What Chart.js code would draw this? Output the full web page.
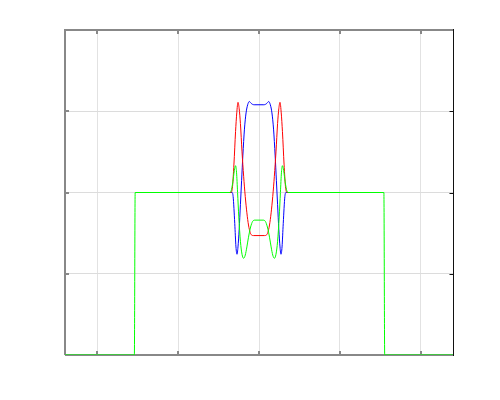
<!DOCTYPE html>
<html>
<head>
<meta charset="utf-8">
<script src="https://cdn.jsdelivr.net/npm/chart.js@4/dist/chart.umd.min.js"></script>
<style>
html,body{margin:0;padding:0;background:#fff;}
#wrap{width:500px;height:400px;}
</style>
</head>
<body>
<div id="wrap"><canvas id="c" width="500" height="400"></canvas></div>
<script>
const xTicks = [-2, -1, 0, 1, 2];
const yTicks = [1, 2, 3];

const xGreen = [-2.4, -1.542, -1.532, -0.36, -0.345, -0.325, -0.305, -0.29, -0.278, -0.265, -0.25, -0.23, -0.21, -0.19, -0.17, -0.15, -0.13, -0.11, -0.09, -0.07, -0.05, 0,
  0.05, 0.07, 0.09, 0.11, 0.13, 0.15, 0.17, 0.19, 0.21, 0.23, 0.25, 0.265, 0.278, 0.29, 0.305, 0.325, 0.345, 0.36, 1.545, 1.555, 2.4];
const yGreen = [0, 0, 2, 2, 2.02, 2.12, 2.27, 2.33, 2.25, 2.0, 1.7, 1.4, 1.24, 1.19, 1.23, 1.33, 1.45, 1.55, 1.62, 1.655, 1.66, 1.66,
  1.66, 1.655, 1.62, 1.55, 1.45, 1.33, 1.23, 1.19, 1.24, 1.4, 1.7, 2.0, 2.25, 2.33, 2.27, 2.12, 2.02, 2, 2, 0, 0];

const xRed = [-0.42, -0.35, -0.33, -0.31, -0.29, -0.275, -0.26, -0.245, -0.23, -0.21, -0.19, -0.17, -0.15, -0.13, -0.11, -0.09, -0.07, 0,
  0.07, 0.09, 0.11, 0.13, 0.15, 0.17, 0.19, 0.21, 0.23, 0.245, 0.26, 0.275, 0.29, 0.31, 0.33, 0.35, 0.42];
const yRed = [2, 2, 2.05, 2.35, 2.75, 2.98, 3.11, 3.03, 2.85, 2.5, 2.2, 1.95, 1.75, 1.6, 1.51, 1.475, 1.47, 1.47,
  1.47, 1.475, 1.51, 1.6, 1.75, 1.95, 2.2, 2.5, 2.85, 3.03, 3.11, 2.98, 2.75, 2.35, 2.05, 2, 2];

const xBlue = [-0.42, -0.335, -0.32, -0.30, -0.285, -0.272, -0.26, -0.245, -0.23, -0.215, -0.20, -0.18, -0.16, -0.14, -0.12, -0.10, -0.08, -0.06, 0,
  0.06, 0.08, 0.10, 0.12, 0.14, 0.16, 0.18, 0.20, 0.215, 0.23, 0.245, 0.26, 0.272, 0.285, 0.30, 0.32, 0.335, 0.42];
const yBlue = [2, 2, 1.95, 1.62, 1.33, 1.24, 1.33, 1.55, 1.85, 2.15, 2.45, 2.78, 2.98, 3.08, 3.12, 3.1, 3.085, 3.08, 3.08,
  3.08, 3.085, 3.1, 3.12, 3.08, 2.98, 2.78, 2.45, 2.15, 1.85, 1.55, 1.33, 1.24, 1.33, 1.62, 1.95, 2, 2];

function pts(xs, ys) { return xs.map((x, i) => ({x: x, y: ys[i]})); }

const frame = {
  id: 'frame',
  beforeDatasetsDraw(chart) {
    const ctx = chart.ctx, a = chart.chartArea;
    const sx = chart.scales.x, sy = chart.scales.y;
    ctx.save();
    // gray borders (left, top, bottom)
    ctx.strokeStyle = '#888888';
    ctx.lineWidth = 2;
    ctx.beginPath();
    ctx.moveTo(a.left, a.bottom); ctx.lineTo(a.left, a.top); ctx.lineTo(a.right, a.top);
    ctx.moveTo(a.left, a.bottom); ctx.lineTo(a.right, a.bottom);
    ctx.stroke();
    // inward ticks on left/top/bottom
    ctx.lineWidth = 2;
    xTicks.forEach(v => {
      const px = Math.round(sx.getPixelForValue(v));
      ctx.beginPath();
      ctx.moveTo(px, a.top); ctx.lineTo(px, a.top + 4);
      ctx.moveTo(px, a.bottom); ctx.lineTo(px, a.bottom - 4);
      ctx.stroke();
    });
    yTicks.forEach(v => {
      const py = Math.round(sy.getPixelForValue(v));
      ctx.beginPath();
      ctx.moveTo(a.left, py); ctx.lineTo(a.left + 4, py);
      ctx.stroke();
    });
    // right border black
    ctx.strokeStyle = '#111111';
    ctx.lineWidth = 1;
    const rx = Math.round(a.right) + 0.5;
    ctx.beginPath();
    ctx.moveTo(rx, a.top - 1); ctx.lineTo(rx, a.bottom + 1);
    ctx.stroke();
    yTicks.forEach(v => {
      const py = Math.round(sy.getPixelForValue(v)) + 0.5;
      ctx.beginPath();
      ctx.moveTo(rx, py); ctx.lineTo(rx - 4, py);
      ctx.stroke();
    });
    ctx.restore();
  }
};

new Chart(document.getElementById('c'), {
  type: 'line',
  data: {
    datasets: [
      {label: 'g', data: pts(xGreen, yGreen), borderColor: '#00ff00', borderWidth: 1, pointRadius: 0, cubicInterpolationMode: 'monotone', fill: false},
      {label: 'r', data: pts(xRed, yRed), borderColor: '#ff0000', borderWidth: 1, pointRadius: 0, cubicInterpolationMode: 'monotone', fill: false},
      {label: 'b', data: pts(xBlue, yBlue), borderColor: '#0000ff', borderWidth: 1, pointRadius: 0, cubicInterpolationMode: 'monotone', fill: false}
    ]
  },
  options: {
    responsive: false,
    animation: false,
    events: [],
    layout: {padding: {left: 65, top: 30, right: 47, bottom: 45}},
    plugins: {legend: {display: false}, tooltip: {enabled: false}},
    scales: {
      x: {
        type: 'linear', min: -2.4, max: 2.4,
        afterBuildTicks: s => { s.ticks = xTicks.map(v => ({value: v})); },
        ticks: {display: false},
        grid: {color: '#e2e2e2', drawTicks: false},
        border: {display: false}
      },
      y: {
        type: 'linear', min: 0, max: 4,
        afterBuildTicks: s => { s.ticks = yTicks.map(v => ({value: v})); },
        ticks: {display: false},
        grid: {color: '#dcdcdc', drawTicks: false},
        border: {display: false}
      }
    }
  },
  plugins: [frame]
});
</script>
</body>
</html>
